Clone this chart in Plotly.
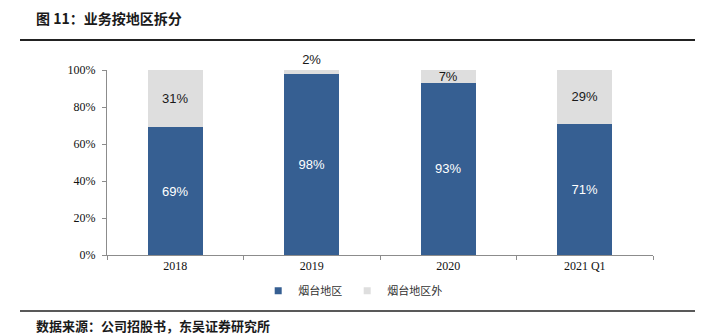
import plotly.graph_objects as go

categories = ["2018", "2019", "2020", "2021 Q1"]
yantai = [69, 98, 93, 71]
outside_yantai = [31, 2, 7, 29]
yantai_labels = ["69%", "98%", "93%", "71%"]
outside_labels = ["31%", "2%", "7%", "29%"]
y_ticks = [0, 20, 40, 60, 80, 100]
y_tick_labels = ["0%", "20%", "40%", "60%", "80%", "100%"]
series_names = ["烟台地区", "烟台地区外"]

BLUE = "#365F92"
GRAY = "#DEDEDE"
CJK = "Noto Sans CJK SC"

fig = go.Figure()
fig.add_trace(go.Bar(
    x=categories, y=yantai, name=series_names[0], showlegend=False,
    marker=dict(color=BLUE, line=dict(width=0)),
    text=yantai_labels, textposition="inside", insidetextanchor="middle",
    textfont=dict(family="Liberation Sans, Arial", size=13, color="white"),
    constraintext="none", hoverinfo="skip",
))
fig.add_trace(go.Bar(
    x=categories, y=outside_yantai, name=series_names[1], showlegend=False,
    marker=dict(color=GRAY, line=dict(width=0)),
    text=outside_labels,
    textposition=["inside", "outside", "inside", "inside"],
    insidetextanchor="middle",
    textfont=dict(family="Liberation Sans, Arial", size=13, color="#1a1a1a"),
    constraintext="none", cliponaxis=False, hoverinfo="skip",
))
# legend entries with small square glyphs
for name, color in zip(series_names, [BLUE, GRAY]):
    fig.add_trace(go.Scatter(
        x=[None], y=[None], mode="markers", name=name,
        marker=dict(symbol="square", size=7, color=color),
        hoverinfo="skip",
    ))

fig.update_layout(
    width=712, height=335,
    barmode="stack", bargap=0.6,
    plot_bgcolor="white", paper_bgcolor="white",
    margin=dict(l=107, r=59, t=70, b=80),
    showlegend=True,
    legend=dict(
        orientation="h", x=0.45, xanchor="center", y=-0.115, yanchor="top",
        font=dict(family=CJK, size=11, color="#333333"),
        itemwidth=30, tracegroupgap=0, traceorder="normal",
    ),
    xaxis=dict(
        showline=True, linecolor="#8c8c8c", linewidth=1,
        ticks="outside", ticklen=4, tickcolor="#8c8c8c", tickson="boundaries",
        tickfont=dict(family="Liberation Serif, Times New Roman", size=12, color="#111111"),
        showgrid=False, zeroline=False, fixedrange=True,
    ),
    yaxis=dict(
        range=[0, 100], tickvals=y_ticks, ticktext=y_tick_labels,
        showline=True, linecolor="#8c8c8c", linewidth=1,
        ticks="outside", ticklen=4, tickcolor="#8c8c8c",
        ticklabelstandoff=4,
        tickfont=dict(family="Liberation Serif, Times New Roman", size=12, color="#111111"),
        showgrid=False, zeroline=False, fixedrange=True,
    ),
)

# Title and footer
fig.add_annotation(
    text="<b>图 11：业务按地区拆分</b>", xref="paper", yref="paper",
    x=(34 - 107) / 546, y=1 + (70 - 18) / 185, xanchor="left", yanchor="middle",
    showarrow=False, font=dict(family=CJK, size=14, color="#1a1a1a"),
)
fig.add_annotation(
    text="<b>数据来源：公司招股书，东吴证券研究所</b>", xref="paper", yref="paper",
    x=(34 - 107) / 546, y=-(325 - 255) / 185, xanchor="left", yanchor="middle",
    showarrow=False, font=dict(family=CJK, size=13, color="#1a1a1a"),
)
fig.add_shape(type="line", xref="paper", yref="paper",
              x0=(20 - 107) / 546, x1=(695 - 107) / 546,
              y0=1 + (70 - 40) / 185, y1=1 + (70 - 40) / 185,
              line=dict(color="#222222", width=2))
fig.add_shape(type="line", xref="paper", yref="paper",
              x0=(20 - 107) / 546, x1=(695 - 107) / 546,
              y0=-(311 - 255) / 185, y1=-(311 - 255) / 185,
              line=dict(color="#222222", width=1.5))

fig.write_html("out.html")
